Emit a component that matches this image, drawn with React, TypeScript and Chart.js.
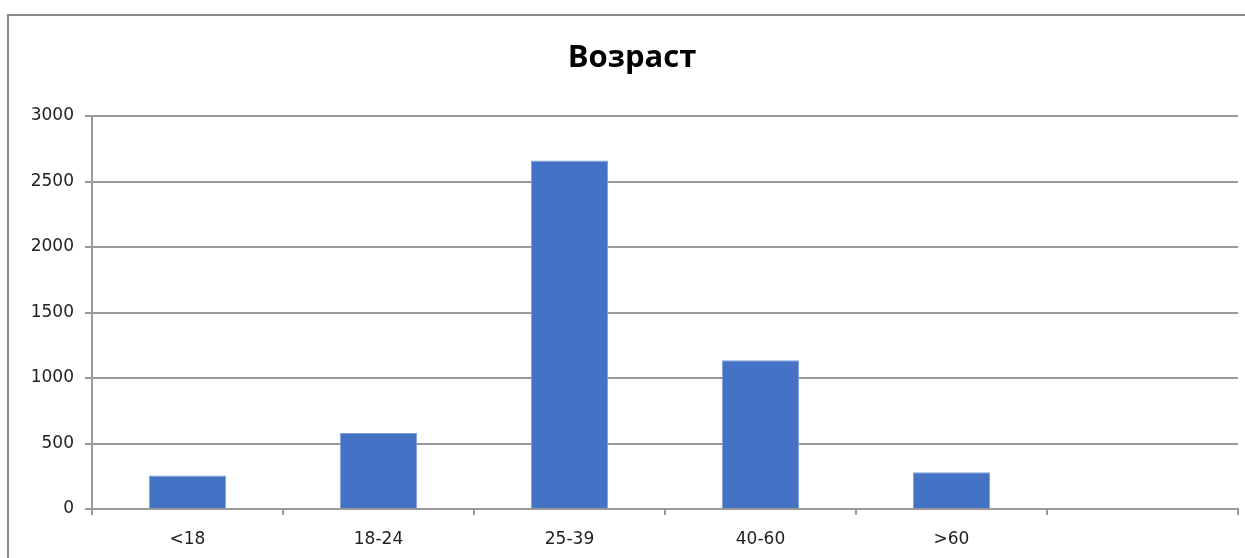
import React, { useEffect, useRef } from "react";
import { Chart, registerables } from "chart.js";

Chart.register(...registerables);

const categories = ["<18", "18-24", "25-39", "40-60", ">60", ""];
const counts = [255, 580, 2660, 1135, 280, null];
const yTicks = [0, 500, 1000, 1500, 2000, 2500, 3000];
const titleText = "Возраст";

const framePlugin = {
  id: "frame",
  afterDraw(chart: any) {
    const ctx = chart.ctx;
    ctx.save();
    ctx.strokeStyle = "#8a8a8a";
    ctx.lineWidth = 2;
    ctx.beginPath();
    ctx.moveTo(8, chart.height + 5);
    ctx.lineTo(8, 15);
    ctx.lineTo(chart.width + 5, 15);
    ctx.stroke();
    ctx.fillStyle = "#000000";
    ctx.font = "bold 31px 'Open Sans'";
    ctx.textAlign = "center";
    ctx.textBaseline = "alphabetic";
    ctx.fillText(titleText, 632, 67);
    ctx.restore();
  },
};

export default function App() {
  const ref = useRef<HTMLCanvasElement | null>(null);
  useEffect(() => {
    if (!ref.current) return;
    const chart = new Chart(ref.current, {
      type: "bar",
      data: {
        labels: categories,
        datasets: [
          {
            data: counts,
            backgroundColor: "#4472C4",
            borderColor: "#7f9fd8",
            borderWidth: 1,
            barPercentage: 0.405,
            categoryPercentage: 1,
          },
        ],
      },
      options: {
        animation: false,
        responsive: false,
        devicePixelRatio: 1,
        layout: { padding: { top: 116, right: 7, bottom: 0, left: 0 } },
        plugins: {
          legend: { display: false },
          tooltip: { enabled: false },
          title: { display: false },
        },
        scales: {
          x: {
            offset: true,
            grid: {
              offset: true,
              drawOnChartArea: false,
              drawTicks: true,
              tickLength: 6,
              color: "#9a9a9a",
              lineWidth: 2,
            },
            border: { display: true, color: "#9a9a9a", width: 2 },
            ticks: {
              color: "#222222",
              font: { family: "DejaVu Sans", size: 17 },
              padding: 14,
              maxRotation: 0,
            },
            afterFit(scale: any) {
              scale.height = 49;
            },
          },
          y: {
            min: 0,
            max: 3000,
            afterBuildTicks(scale: any) {
              scale.ticks = yTicks.map((v) => ({ value: v }));
            },
            grid: {
              color: "#9a9a9a",
              lineWidth: 2,
              tickLength: 7,
            },
            border: { display: true, color: "#9a9a9a", width: 2 },
            ticks: {
              color: "#222222",
              font: { family: "DejaVu Sans", size: 17 },
              padding: 11,
              callback: (v: any) => String(v),
            },
            afterFit(scale: any) {
              scale.width = 92;
            },
          },
        },
      },
      plugins: [framePlugin],
    });
    return () => chart.destroy();
  }, []);
  return (
    <div style={{ position: "fixed", left: 0, top: 0, width: 1245, height: 558, background: "#ffffff" }}>
      <canvas ref={ref} width={1245} height={558} style={{ width: 1245, height: 558, display: "block" }} />
    </div>
  );
}
